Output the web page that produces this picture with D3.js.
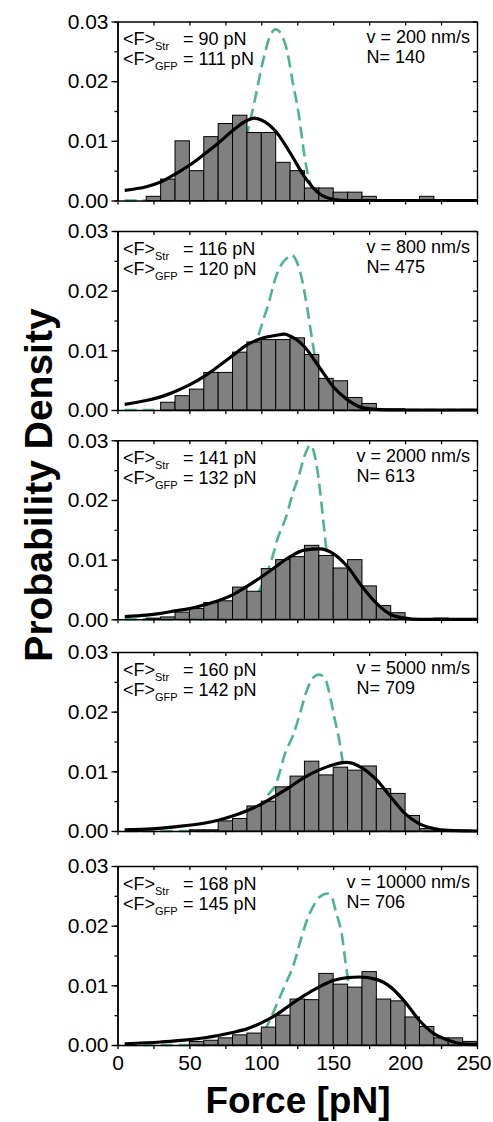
<!DOCTYPE html>
<html>
<head>
<meta charset="utf-8">
<style>
  html, body { margin: 0; padding: 0; background: #fff; }
  svg { display: block; font-family: "Liberation Sans", Arial, sans-serif; }
</style>
</head>
<body>
<script src="https://d3js.org/d3.v7.min.js"></script>
<script>
// ---- data ----
var binStarts = [0, 10, 20, 30, 40, 50, 60, 70, 80, 90, 100, 110, 120, 130, 140, 150, 160, 170, 180, 190, 200, 210, 220, 230, 240];

var speeds = ["200", "800", "2000", "5000", "10000"];
var counts = [140, 475, 613, 709, 706];
var meanStr = [90, 116, 141, 160, 168];
var meanGfp = [111, 120, 132, 142, 145];

var xTicks = [0, 50, 100, 150, 200, 250];
var xMinor = [0, 25, 50, 75, 100, 125, 150, 175, 200, 225, 250];
var yTicks = [0, 0.01, 0.02, 0.03];
var yMinor = [0, 0.005, 0.01, 0.015, 0.02, 0.025, 0.03];

// histogram densities, one per 10 pN bin
var hist200 = [0, 0, 0.0007, 0.0036, 0.0100, 0.0050, 0.0107, 0.0129, 0.0143, 0.0114, 0.0114, 0.0064, 0.0050, 0.0021, 0.0021, 0.0014, 0.0014, 0.0007, 0, 0, 0, 0.0007, 0, 0, 0];
var hist800 = [0, 0, 0, 0.0013, 0.0024, 0.0035, 0.0063, 0.0063, 0.0097, 0.0114, 0.0118, 0.0118, 0.0121, 0.0093, 0.0053, 0.0049, 0.0021, 0.0011, 0.0002, 0.0002, 0, 0, 0, 0, 0];
var hist2000 = [0, 0, 0.0002, 0.0004, 0.0012, 0.0018, 0.0028, 0.0031, 0.0054, 0.0047, 0.0085, 0.0100, 0.0105, 0.0124, 0.0107, 0.0086, 0.0100, 0.0056, 0.0023, 0.0011, 0, 0, 0.0002, 0, 0];
var hist5000 = [0, 0, 0, 0, 0, 0.0002, 0.0002, 0.0017, 0.0021, 0.0042, 0.0050, 0.0074, 0.0092, 0.0117, 0.0094, 0.0107, 0.0102, 0.0109, 0.0071, 0.0063, 0.0026, 0.0004, 0.0002, 0, 0];
var hist10000 = [0, 0, 0, 0, 0, 0.0006, 0.0008, 0.0012, 0.0017, 0.0020, 0.0030, 0.0050, 0.0077, 0.0076, 0.0120, 0.0102, 0.0097, 0.0123, 0.0077, 0.0074, 0.0047, 0.0031, 0.0012, 0.0012, 0.0006];

// solid black fit (streptavidin), [force, density]
var strFit200 = [[5, .0017], [20, .0023], [30, .0031], [40, .0044], [50, .0059], [60, .0077], [70, .0096], [80, .0117], [90, .0134], [95, .0138], [100, .0135], [110, .0116], [120, .0080], [130, .0040], [140, .0012], [150, .0002], [160, 0], [250, 0]];
var strFit800 = [[5, .00095], [20, .0016], [30, .0022], [40, .0031], [50, .0042], [60, .0056], [70, .0073], [80, .0091], [90, .0109], [100, .0120], [110, .0125], [116, .0127], [120, .0124], [130, .0106], [140, .0073], [150, .0039], [160, .0017], [170, .0004], [180, .0001], [190, 0], [250, 0]];
var strFit2000 = [[5, .00045], [20, .0007], [30, .0010], [40, .0014], [50, .0018], [60, .0024], [70, .0031], [80, .0041], [90, .0055], [100, .0071], [110, .0088], [120, .0105], [130, .0116], [141, .0118], [150, .0110], [160, .0088], [170, .0055], [180, .0027], [190, .0008], [200, .0002], [210, 0], [250, 0]];
var strFit5000 = [[5, .0002], [20, .0003], [40, .0007], [60, .0013], [70, .0018], [80, .0025], [90, .0034], [100, .0045], [110, .0059], [120, .0074], [130, .0090], [140, .0102], [150, .0111], [159, .0115], [170, .0106], [180, .0086], [190, .0057], [200, .0029], [210, .0012], [220, .0004], [230, .0001], [250, 0]];
var strFit10000 = [[5, .0002], [30, .0005], [50, .0009], [70, .0016], [80, .0021], [90, .0027], [100, .0037], [110, .0050], [120, .0067], [130, .0083], [140, .0097], [150, .0108], [160, .0113], [168, .0114], [180, .0110], [190, .0097], [200, .0072], [210, .0041], [220, .0019], [230, .0008], [240, .0002], [250, .0001]];

// dashed green fit (GFP), [force, density]
var gfpFit200 = [[5, 0], [60, 0], [70, .0005], [80, .0030], [86, .0070], [90, .0110], [96, .0174], [101, .0232], [106, .0275], [110, .0287], [114, .0278], [118, .0250], [122, .0196], [126, .0145], [128, .0110], [130, .0075], [132, .0048], [135, .0022], [140, .0005], [145, 0], [250, 0]];
var gfpFit800 = [[5, 0], [60, 0], [75, .0008], [85, .0040], [92, .0080], [97, .0117], [101, .0148], [105, .0178], [110, .0222], [114, .0244], [118, .0255], [121, .0260], [124, .0252], [128, .0222], [132, .0170], [136, .0108], [140, .0055], [145, .0018], [150, .0003], [155, 0], [250, 0]];
var gfpFit2000 = [[5, 0], [70, 0], [85, .0008], [92, .0025], [98, .0045], [103, .0072], [107, .0099], [112, .0140], [117, .0170], [122, .0212], [126, .0240], [131, .0280], [134, .0292], [136, .0285], [139, .0250], [143, .0168], [146, .0100], [149, .0048], [153, .0015], [158, .0002], [162, 0], [250, 0]];
var gfpFit5000 = [[5, 0], [80, 0], [90, .0005], [95, .0015], [100, .0035], [104, .0057], [110, .0078], [117, .0133], [122, .0160], [128, .0206], [131, .0231], [137, .0259], [140, .0262], [144, .0257], [148, .0224], [151, .0188], [154, .0155], [157, .0110], [160, .0065], [163, .0030], [167, .0008], [172, 0], [250, 0]];
var gfpFit10000 = [[5, 0], [80, 0], [92, .0005], [101, .0019], [106, .0042], [110, .0064], [117, .0103], [122, .0131], [128, .0181], [131, .0204], [136, .0232], [141, .0249], [146, .0254], [149, .0248], [152, .0222], [156, .0185], [159, .0131], [162, .0085], [165, .0045], [168, .0020], [172, .0005], [177, 0], [250, 0]];

var hists = [hist200, hist800, hist2000, hist5000, hist10000];
var strFits = [strFit200, strFit800, strFit2000, strFit5000, strFit10000];
var gfpFits = [gfpFit200, gfpFit800, gfpFit2000, gfpFit5000, gfpFit10000];

// ---- layout ----
var width = 493, height = 1122;
var panelTops = [21.5, 231, 440.3, 652, 866];
var panelH = 179;
var binW = 10;

var svg = d3.select("body").append("svg")
  .attr("width", width)
  .attr("height", height);

var x = d3.scaleLinear().domain([0, 250]).range([117.5, 477]);

panelTops.forEach(function(top, i) {
  var y = d3.scaleLinear().domain([0, 0.03]).range([top + panelH, top]);
  var g = svg.append("g");
  var last = i === panelTops.length - 1;

  var line = d3.line()
    .x(function(d) { return x(d[0]); })
    .y(function(d) { return y(d[1]); })
    .curve(d3.curveMonotoneX);

  // green dashed curve sits underneath the bars
  g.append("path")
    .datum(gfpFits[i])
    .attr("d", line)
    .attr("fill", "none")
    .attr("stroke", "#4cb686")
    .attr("stroke-width", 2.6)
    .attr("stroke-dasharray", "12,6");

  g.selectAll("rect")
    .data(hists[i].map(function(v, k) { return { x0: binStarts[k], v: v }; })
      .filter(function(d) { return d.v > 0; }))
    .enter().append("rect")
    .attr("x", function(d) { return x(d.x0); })
    .attr("width", function(d) { return x(d.x0 + binW) - x(d.x0); })
    .attr("y", function(d) { return y(d.v); })
    .attr("height", function(d) { return y(0) - y(d.v); })
    .attr("fill", "#808080")
    .attr("stroke", "#000")
    .attr("stroke-width", 1);

  g.append("path")
    .datum(strFits[i])
    .attr("d", line)
    .attr("fill", "none")
    .attr("stroke", "#000")
    .attr("stroke-width", 3.2);

  // axes
  var axL = g.append("g").attr("transform", "translate(" + x(0) + ",0)")
    .call(d3.axisLeft(y).tickValues(yTicks).tickSize(6).tickSizeOuter(0).tickPadding(3).tickFormat(d3.format(".2f")));
  g.append("g").attr("transform", "translate(" + x(0) + ",0)")
    .call(d3.axisLeft(y).tickValues(yMinor).tickSize(3).tickSizeOuter(0).tickFormat(""));
  g.append("g").attr("transform", "translate(" + x(250) + ",0)")
    .call(d3.axisRight(y).tickValues(yMinor).tickSize(-4).tickSizeOuter(0).tickFormat(""));
  g.append("g").attr("transform", "translate(0," + top + ")")
    .call(d3.axisTop(x).tickValues(xMinor).tickSize(-4).tickSizeOuter(0).tickFormat(""));
  var axB = g.append("g").attr("transform", "translate(0," + (top + panelH) + ")")
    .call(d3.axisBottom(x).tickValues(xMinor).tickSize(4).tickSizeOuter(0).tickPadding(6)
      .tickFormat(function(d) { return last && xTicks.indexOf(d) >= 0 ? d : ""; }));

  g.selectAll(".domain").attr("stroke", "#000").attr("stroke-width", 1.4);
  g.selectAll(".tick line").attr("stroke", "#000").attr("stroke-width", 1.3);
  axL.selectAll("text").attr("font-size", 21).attr("font-family", "Liberation Sans, Arial, sans-serif").attr("fill", "#000");
  axB.selectAll("text").attr("font-size", 21).attr("font-family", "Liberation Sans, Arial, sans-serif").attr("fill", "#000");
  // keep the last label inside the picture
  axB.selectAll(".tick text").filter(function(d) { return d === 250; })
    .attr("text-anchor", "end").attr("dx", 14);

  // annotations, left
  [["Str", meanStr[i]], ["GFP", meanGfp[i]]].forEach(function(r, k) {
    var by = top + 23.5 + k * 20;
    var t = g.append("text").attr("x", 123).attr("y", by).attr("font-size", 18);
    t.append("tspan").text("<F>");
    t.append("tspan").attr("font-size", 11).attr("dy", 5).text(r[0]);
    g.append("text").attr("x", 183).attr("y", by).attr("font-size", 18)
      .text("= " + r[1] + " pN");
  });

  // annotations, right
  var vt = g.append("text").attr("x", 470).attr("y", top + 21.5)
    .attr("font-size", 18).attr("text-anchor", "end")
    .text("v = " + speeds[i] + " nm/s");
  var vx = 470 - vt.node().getComputedTextLength();
  g.append("text").attr("x", vx).attr("y", top + 41.5)
    .attr("font-size", 18).text("N= " + counts[i]);
});

svg.append("text")
  .attr("transform", "translate(52,485) rotate(-90)")
  .attr("text-anchor", "middle")
  .attr("font-size", 39)
  .attr("font-weight", "bold")
  .text("Probability Density");

svg.append("text")
  .attr("x", 298).attr("y", 1113)
  .attr("text-anchor", "middle")
  .attr("font-size", 37)
  .attr("font-weight", "bold")
  .text("Force [pN]");
</script>
</body>
</html>
